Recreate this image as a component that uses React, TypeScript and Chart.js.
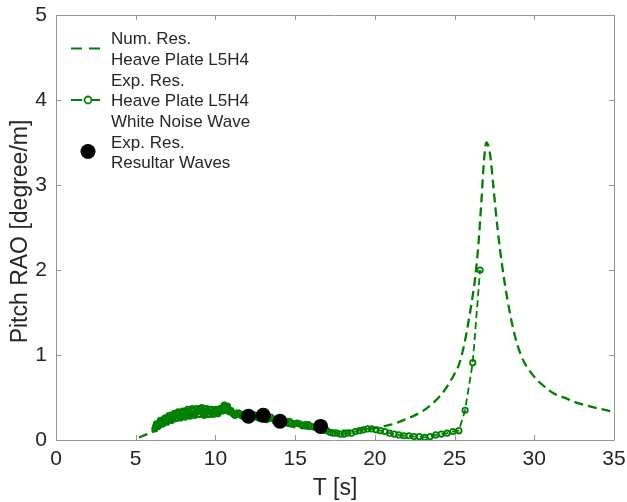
import React, { useEffect, useRef } from 'react';
import { Chart, registerables } from 'chart.js';
Chart.register(...registerables);

// ---- data ----
const numT = [5.2, 5.6, 6.0, 6.5, 7.0, 7.5, 8.0, 8.5, 9.0, 9.5, 10.0, 10.5, 11.0, 11.5, 12.0, 12.5, 13.0, 13.5, 14.0, 14.5, 15.0, 15.5, 16.0, 16.5, 17.0, 17.5, 18.0, 18.5, 19.0, 19.5, 20.0, 20.5, 21.0, 21.5, 22.0, 22.5, 23.0, 23.5, 24.0, 24.5, 25.0, 25.3, 25.6, 25.9, 26.1, 26.3, 26.5, 26.7, 26.85, 27.0, 27.1, 27.25, 27.45, 27.7, 28.0, 28.3, 28.7, 29.2, 29.8, 30.5, 31.2, 32.0, 32.8, 33.6, 34.3, 35.0];
const numY = [0.03, 0.06, 0.09, 0.15, 0.20, 0.25, 0.28, 0.30, 0.31, 0.32, 0.32, 0.32, 0.31, 0.29, 0.27, 0.25, 0.23, 0.21, 0.19, 0.17, 0.15, 0.14, 0.13, 0.12, 0.11, 0.11, 0.11, 0.11, 0.12, 0.13, 0.14, 0.16, 0.18, 0.21, 0.25, 0.29, 0.34, 0.41, 0.50, 0.62, 0.78, 0.90, 1.12, 1.42, 1.65, 1.92, 2.31, 2.86, 3.30, 3.50, 3.47, 3.33, 2.95, 2.48, 2.03, 1.67, 1.29, 0.98, 0.79, 0.65, 0.55, 0.49, 0.43, 0.39, 0.36, 0.33];

const expT = [6.20, 6.25, 6.30, 6.35, 6.40, 6.45, 6.50, 6.55, 6.60, 6.65, 6.70, 6.75, 6.80, 6.85, 6.90, 6.95, 7.00, 7.05, 7.10, 7.15, 7.20, 7.25, 7.30, 7.35, 7.40, 7.45, 7.50, 7.55, 7.60, 7.65, 7.70, 7.75, 7.80, 7.85, 7.90, 7.95, 8.00, 8.05, 8.10, 8.15, 8.20, 8.25, 8.30, 8.35, 8.40, 8.45, 8.50, 8.55, 8.60, 8.65, 8.70, 8.75, 8.80, 8.85, 8.90, 8.95, 9.00, 9.05, 9.10, 9.15, 9.20, 9.25, 9.30, 9.35, 9.40, 9.45, 9.50, 9.55, 9.60, 9.65, 9.70, 9.75, 9.80, 9.85, 9.90, 9.95, 10.00, 10.05, 10.10, 10.15, 10.20, 10.25, 10.30, 10.35, 10.40, 10.45, 10.50, 10.55, 10.60, 10.65, 10.70, 10.75, 10.80, 10.85, 10.90, 10.95, 11.03, 11.12, 11.22, 11.32, 11.42, 11.52, 11.62, 11.72, 11.82, 11.92, 12.03, 12.14, 12.25, 12.36, 12.48, 12.60, 12.72, 12.84, 12.96, 13.08, 13.21, 13.34, 13.47, 13.60, 13.74, 13.88, 14.02, 14.17, 14.32, 14.47, 14.63, 14.79, 14.95, 15.12, 15.29, 15.46, 15.64, 15.82, 16.00, 16.19, 16.38, 16.58, 16.78, 16.98, 17.19, 17.40, 17.62, 17.84, 18.07, 18.30, 18.54, 18.78, 19.03, 19.28, 19.54, 19.80, 20.07, 20.35, 20.63, 20.92, 21.21, 21.51, 21.82, 22.14, 22.46, 22.79, 23.13, 23.47, 23.82, 24.17, 24.53, 24.90, 25.27, 25.66, 26.14, 26.60];
const expY = [0.13, 0.16, 0.19, 0.18, 0.16, 0.17, 0.20, 0.23, 0.22, 0.19, 0.19, 0.22, 0.25, 0.26, 0.23, 0.21, 0.23, 0.27, 0.29, 0.27, 0.24, 0.23, 0.26, 0.30, 0.31, 0.28, 0.25, 0.26, 0.30, 0.33, 0.32, 0.28, 0.26, 0.28, 0.32, 0.34, 0.33, 0.29, 0.27, 0.30, 0.34, 0.36, 0.33, 0.29, 0.28, 0.31, 0.35, 0.37, 0.34, 0.30, 0.29, 0.32, 0.36, 0.37, 0.34, 0.30, 0.30, 0.33, 0.37, 0.38, 0.35, 0.31, 0.29, 0.32, 0.36, 0.37, 0.34, 0.30, 0.30, 0.33, 0.36, 0.36, 0.33, 0.30, 0.31, 0.34, 0.36, 0.35, 0.32, 0.31, 0.33, 0.36, 0.37, 0.35, 0.34, 0.36, 0.39, 0.41, 0.40, 0.38, 0.39, 0.40, 0.37, 0.34, 0.33, 0.35, 0.33, 0.31, 0.29, 0.30, 0.32, 0.31, 0.29, 0.28, 0.30, 0.31, 0.29, 0.27, 0.28, 0.30, 0.29, 0.27, 0.26, 0.28, 0.28, 0.26, 0.24, 0.25, 0.27, 0.25, 0.23, 0.23, 0.24, 0.22, 0.20, 0.21, 0.22, 0.20, 0.19, 0.20, 0.19, 0.17, 0.18, 0.18, 0.16, 0.15, 0.15, 0.13, 0.12, 0.11, 0.09, 0.08, 0.08, 0.07, 0.07, 0.08, 0.08, 0.10, 0.11, 0.12, 0.13, 0.13, 0.12, 0.11, 0.10, 0.08, 0.07, 0.06, 0.05, 0.05, 0.04, 0.04, 0.03, 0.04, 0.06, 0.07, 0.08, 0.10, 0.11, 0.35, 0.91, 2.00];

const resT = [12.07, 13.0, 14.05, 16.6];
const resY = [0.28, 0.29, 0.22, 0.16];

const xTicks = [0, 5, 10, 15, 20, 25, 30, 35];
const yTicks = [0, 1, 2, 3, 4, 5];

const legendNum = ['Num. Res.', 'Heave Plate L5H4'];
const legendExp = ['Exp. Res.', 'Heave Plate L5H4', 'White Noise Wave'];
const legendRes = ['Exp. Res.', 'Resultar Waves'];
const xTitle = 'T [s]';
const yTitle = 'Pitch RAO [degree/m]';

const GREEN = 'rgb(0,128,0)';
const FONT = "'Liberation Sans', Arial, Helvetica, sans-serif";
const AXIS = 'rgb(150,150,150)';
const TEXT = 'rgb(38,38,38)';

const decorPlugin = {
  id: 'decor',
  afterDraw(chart: any) {
    const ctx = chart.ctx;
    const a = chart.chartArea;
    const xs = chart.scales.x;
    const ys = chart.scales.y;
    ctx.save();
    // box
    ctx.strokeStyle = AXIS;
    ctx.lineWidth = 1;
    ctx.setLineDash([]);
    ctx.beginPath();
    ctx.rect(Math.round(a.left) + 0.5, Math.round(a.top) + 0.5, Math.round(a.right - a.left), Math.round(a.bottom - a.top));
    ctx.stroke();
    // inward ticks
    const tl = 5;
    ctx.beginPath();
    xTicks.forEach((v) => {
      const px = Math.round(xs.getPixelForValue(v)) + 0.5;
      ctx.moveTo(px, a.bottom); ctx.lineTo(px, a.bottom - tl);
      ctx.moveTo(px, a.top); ctx.lineTo(px, a.top + tl);
    });
    yTicks.forEach((v) => {
      const py = Math.round(ys.getPixelForValue(v)) + 0.5;
      ctx.moveTo(a.left, py); ctx.lineTo(a.left + tl, py);
      ctx.moveTo(a.right, py); ctx.lineTo(a.right - tl, py);
    });
    ctx.stroke();

    // axis titles
    ctx.fillStyle = TEXT;
    ctx.font = `23px ${FONT}`;
    ctx.textAlign = 'center';
    ctx.textBaseline = 'alphabetic';
    ctx.fillText(xTitle, (a.left + a.right) / 2, 495);
    ctx.save();
    ctx.translate(27, (a.top + a.bottom) / 2 + 4);
    ctx.rotate(-Math.PI / 2);
    ctx.fillText(yTitle, 0, 0);
    ctx.restore();

    // legend
    ctx.font = `17px ${FONT}`;
    ctx.textAlign = 'left';
    ctx.textBaseline = 'middle';
    const lines = [...legendNum, ...legendExp, ...legendRes];
    const y0 = 39.5;
    const step = 20.7;
    lines.forEach((t, i) => ctx.fillText(t, 111, y0 + i * step));

    ctx.strokeStyle = GREEN;
    ctx.lineWidth = 2.2;
    ctx.setLineDash([11, 7]);
    ctx.beginPath();
    ctx.moveTo(71, 48.5); ctx.lineTo(100, 48.5);
    ctx.stroke();
    ctx.setLineDash([]);
    ctx.beginPath();
    ctx.moveTo(71, 100); ctx.lineTo(82, 100);
    ctx.moveTo(92, 100); ctx.lineTo(100, 100);
    ctx.stroke();
    ctx.lineWidth = 1.8;
    ctx.beginPath();
    ctx.arc(88, 100, 3.5, 0, Math.PI * 2);
    ctx.stroke();
    ctx.fillStyle = '#000';
    ctx.beginPath();
    ctx.arc(88, 151.5, 7.5, 0, Math.PI * 2);
    ctx.fill();
    ctx.restore();
  },
};

export default function App() {
  const ref = useRef<HTMLCanvasElement>(null);
  useEffect(() => {
    if (!ref.current) return;
    const chart = new Chart(ref.current, {
      type: 'scatter',
      data: {
        datasets: [
          {
            label: 'Exp. Res. Resultar Waves',
            data: resT.map((x, i) => ({ x, y: resY[i] })),
            showLine: false,
            pointRadius: 7.5,
            pointHoverRadius: 7.5,
            pointBackgroundColor: '#000',
            pointBorderColor: '#000',
            pointBorderWidth: 0,
            order: 0,
          },
          {
            label: 'Exp. Res. Heave Plate L5H4 White Noise Wave',
            data: expT.map((x, i) => ({ x, y: expY[i] })),
            showLine: true,
            borderColor: GREEN,
            borderWidth: 1.8,
            borderDash: [7, 4],
            pointRadius: 2.7,
            pointHoverRadius: 2.7,
            pointBorderWidth: 1.8,
            pointBorderColor: GREEN,
            pointBackgroundColor: 'rgba(0,0,0,0)',
            order: 1,
          },
          {
            label: 'Num. Res. Heave Plate L5H4',
            data: numT.map((x, i) => ({ x, y: numY[i] })),
            showLine: true,
            borderColor: GREEN,
            borderWidth: 2.3,
            borderDash: [9, 5],
            pointRadius: 0,
            cubicInterpolationMode: 'monotone',
            order: 2,
          },
        ],
      },
      options: {
        animation: false,
        responsive: false,
        events: [],
        layout: { padding: { top: 15, right: 13, left: 0, bottom: 0 } },
        plugins: { legend: { display: false }, tooltip: { enabled: false }, title: { display: false } },
        scales: {
          x: {
            type: 'linear',
            min: 0,
            max: 35,
            grid: { display: false, drawTicks: false },
            border: { display: false },
            ticks: { font: { family: FONT, size: 21 }, color: TEXT, padding: 7, maxRotation: 0 },
            afterBuildTicks: (s: any) => { s.ticks = xTicks.map((v) => ({ value: v })); },
            afterFit: (s: any) => { s.height = 62; s.paddingLeft = 0; s.paddingRight = 0; },
          },
          y: {
            type: 'linear',
            min: 0,
            max: 5,
            grid: { display: false, drawTicks: false },
            border: { display: false },
            ticks: { font: { family: FONT, size: 21 }, color: TEXT, padding: 9 },
            afterBuildTicks: (s: any) => { s.ticks = yTicks.map((v) => ({ value: v })); },
            afterFit: (s: any) => { s.width = 56; s.paddingTop = 0; s.paddingBottom = 0; },
          },
        },
      },
      plugins: [decorPlugin],
    } as any);
    return () => chart.destroy();
  }, []);
  return (
    <div style={{ position: 'fixed', left: 0, top: 0, width: 627, height: 502, background: '#fff' }}>
      <canvas ref={ref} width={627} height={502} style={{ width: 627, height: 502 }} />
    </div>
  );
}
